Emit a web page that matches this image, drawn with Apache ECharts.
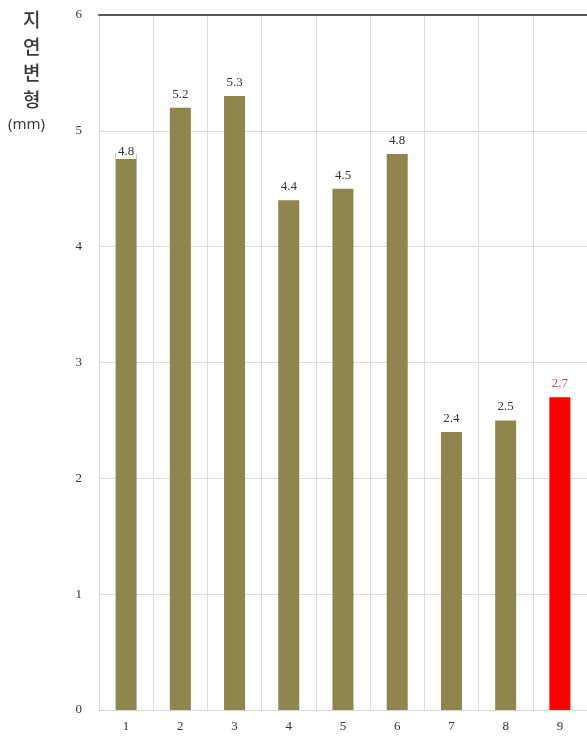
<!DOCTYPE html>
<html>
<head>
<meta charset="utf-8">
<script src="https://cdn.jsdelivr.net/npm/echarts@6/dist/echarts.min.js"></script>
<style>
  html, body { margin: 0; padding: 0; background: #fff; }
  #chart { width: 587px; height: 740px; }
</style>
</head>
<body>
<div id="chart"></div>
<script>
// Deflection per specimen
const categories = ['1', '2', '3', '4', '5', '6', '7', '8', '9'];
const deflection = [4.8, 5.2, 5.3, 4.4, 4.5, 4.8, 2.4, 2.5, 2.7];
const highlightIndex = 8;
const yTicks = [0, 1, 2, 3, 4, 5, 6];

const olive = '#8e854f';
const red = '#ff0000';
const serif = '"Liberation Serif", "DejaVu Serif", serif';

const barData = deflection.map((v, i) => {
  const item = { value: v };
  if (i === highlightIndex) {
    item.itemStyle = { color: red };
    item.label = { color: '#d0454c' };
  }
  if (i === 0) {
    item.label = { offset: [0, 11] };
  }
  return item;
});

const chart = echarts.init(document.getElementById('chart'), null, { renderer: 'canvas' });

chart.setOption({
  backgroundColor: '#ffffff',
  animation: false,
  grid: { left: 99, top: 15, width: 490, height: 695, containLabel: false },
  xAxis: [
    {
      type: 'category',
      data: categories,
      boundaryGap: true,
      axisLine: { show: true, lineStyle: { color: '#d4d4d4', width: 1 } },
      axisTick: { show: false },
      splitLine: { show: true, lineStyle: { color: '#dcdcdc', width: 1 } },
      axisLabel: { color: '#333', fontFamily: serif, fontSize: 13, margin: 10 }
    },
    {
      type: 'category',
      data: categories,
      position: 'top',
      axisLine: { show: true, lineStyle: { color: '#595959', width: 2 } },
      axisTick: { show: false },
      axisLabel: { show: false },
      splitLine: { show: false }
    }
  ],
  yAxis: {
    type: 'value',
    min: yTicks[0],
    max: yTicks[yTicks.length - 1],
    interval: 1,
    axisLine: { show: true, lineStyle: { color: '#d4d4d4', width: 1 } },
    axisTick: { show: false },
    splitLine: { show: true, lineStyle: { color: '#dcdcdc', width: 1 } },
    axisLabel: { color: '#333', fontFamily: serif, fontSize: 13, margin: 17 }
  },
  graphic: [
    {
      type: 'text',
      left: 23,
      top: 7,
      style: {
        text: '지\n연\n변\n형',
        fill: '#3a3a3a',
        font: '500 19px "Noto Sans CJK KR", sans-serif',
        lineHeight: 26.5
      }
    },
    {
      type: 'text',
      left: 8,
      top: 117,
      style: {
        text: '(mm)',
        fill: '#3a3a3a',
        font: '15px "Noto Sans", "DejaVu Sans", sans-serif'
      }
    }
  ],
  series: [
    {
      type: 'bar',
      data: barData,
      barWidth: 21,
      itemStyle: { color: olive },
      label: {
        show: true,
        position: 'top',
        distance: 6,
        color: '#333',
        fontFamily: serif,
        fontSize: 13,
        backgroundColor: '#ffffff',
        padding: [1, 2]
      }
    }
  ]
});
</script>
</body>
</html>
